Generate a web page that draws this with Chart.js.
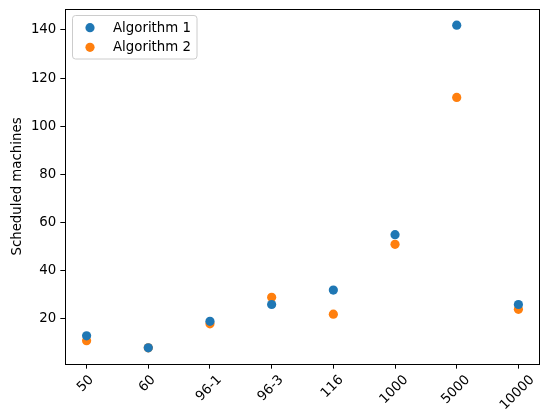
<!DOCTYPE html>
<html>
<head>
<meta charset="utf-8">
<script src="https://cdn.jsdelivr.net/npm/chart.js@4"></script>
<style>
  html, body { margin: 0; padding: 0; background: #fff; }
  #wrap { width: 540px; height: 414px; overflow: hidden; }
</style>
</head>
<body>
<div id="wrap"><canvas id="c" width="540" height="414"></canvas></div>
<script>
// Instance names along the x axis
const categories = ['50', '60', '96-1', '96-3', '116', '1000', '5000', '10000'];
// Number of scheduled machines per instance
const algorithm1 = [13, 8, 19, 26, 32, 55, 142, 26];
const algorithm2 = [11, 8, 18, 29, 22, 51, 112, 24];
const yTicks = [20, 40, 60, 80, 100, 120, 140];
const seriesNames = ['Algorithm 1', 'Algorithm 2'];
const seriesColors = ['#1f77b4', '#ff7f0e'];

const FONT = '"DejaVu Sans", "Liberation Sans", sans-serif';
const FS = 13.33;

// Frame around the plot area, rotated x labels and the inset legend
const decorations = {
  id: 'decorations',
  afterDraw(chart) {
    const ctx = chart.ctx;
    const a = chart.chartArea;
    ctx.save();
    // frame (the right edge falls just outside the canvas)
    ctx.strokeStyle = '#000';
    ctx.lineWidth = 1;
    ctx.strokeRect(Math.round(a.left) + 0.5, Math.round(a.top) + 0.5,
                   Math.round(a.right - a.left) - 1, Math.round(a.bottom - a.top));

    // x tick labels, rotated 45 degrees and centred under each tick
    const xs = chart.scales.x;
    ctx.font = FS + 'px ' + FONT;
    ctx.fillStyle = '#000';
    ctx.textAlign = 'center';
    ctx.textBaseline = 'middle';
    categories.forEach((lab, i) => {
      const px = xs.getPixelForValue(i);
      const w = ctx.measureText(lab).width;
      const cy = xs.top + 9 + (w + FS) * 0.3536;
      ctx.save();
      ctx.translate(px - 1, cy);
      ctx.rotate(-Math.PI / 4);
      ctx.fillText(lab, 0, 0);
      ctx.restore();
    });

    // legend
    const bx = 72.5, by = 15.5, bw = 124.5, bh = 43.5;
    ctx.beginPath();
    ctx.roundRect(bx, by, bw, bh, 3);
    ctx.fillStyle = 'rgba(255,255,255,0.8)';
    ctx.fill();
    ctx.strokeStyle = '#cccccc';
    ctx.lineWidth = 1;
    ctx.stroke();
    const rows = [27.7, 47.3];
    chart.data.datasets.forEach((ds, i) => {
      ctx.beginPath();
      ctx.arc(90, rows[i], 4.6, 0, Math.PI * 2);
      ctx.fillStyle = ds.backgroundColor;
      ctx.fill();
      ctx.fillStyle = '#000';
      ctx.textAlign = 'left';
      ctx.textBaseline = 'middle';
      ctx.fillText(ds.label, 113, rows[i] + 0.5);
    });
    ctx.restore();
  }
};

// keep the plot area exactly where the scales put it
const noScalePadding = s => {
  s.paddingTop = 0; s.paddingBottom = 0; s.paddingLeft = 0; s.paddingRight = 0;
};

const series = [algorithm1, algorithm2];

new Chart(document.getElementById('c'), {
  type: 'scatter',
  data: {
    datasets: series.map((vals, k) => ({
      label: seriesNames[k],
      data: vals.map((v, i) => ({ x: i, y: v })),
      backgroundColor: seriesColors[k],
      borderColor: seriesColors[k],
      borderWidth: 0,
      pointRadius: 4.6,
      pointHoverRadius: 4.6,
      showLine: false
    }))
  },
  options: {
    responsive: false,
    animation: false,
    devicePixelRatio: 1,
    layout: { autoPadding: false, padding: { top: 9, right: -2.7, left: 0, bottom: 0 } },
    plugins: {
      legend: { display: false },
      tooltip: { enabled: false }
    },
    scales: {
      x: {
        type: 'linear',
        min: -0.35,
        max: 7.35,
        afterBuildTicks: s => { s.ticks = categories.map((_, i) => ({ value: i })); },
        afterFit: s => { s.height = 50; noScalePadding(s); },
        ticks: { display: false },
        grid: { display: true, drawOnChartArea: false, drawTicks: true, tickLength: 4.67, color: '#000', lineWidth: 1 },
        border: { display: false }
      },
      y: {
        type: 'linear',
        min: 1.3,
        max: 148.7,
        afterBuildTicks: s => { s.ticks = yTicks.map(v => ({ value: v })); },
        afterFit: s => { s.width = 65; noScalePadding(s); },
        ticks: { color: '#000', font: { family: FONT, size: FS }, padding: 4 },
        grid: { display: true, drawOnChartArea: false, drawTicks: true, tickLength: 4.67, color: '#000', lineWidth: 1 },
        border: { display: false },
        title: {
          display: true,
          text: 'Scheduled machines',
          color: '#000',
          font: { family: FONT, size: FS },
          padding: { top: 10, bottom: 0 }
        }
      }
    }
  },
  plugins: [decorations]
});
</script>
</body>
</html>
